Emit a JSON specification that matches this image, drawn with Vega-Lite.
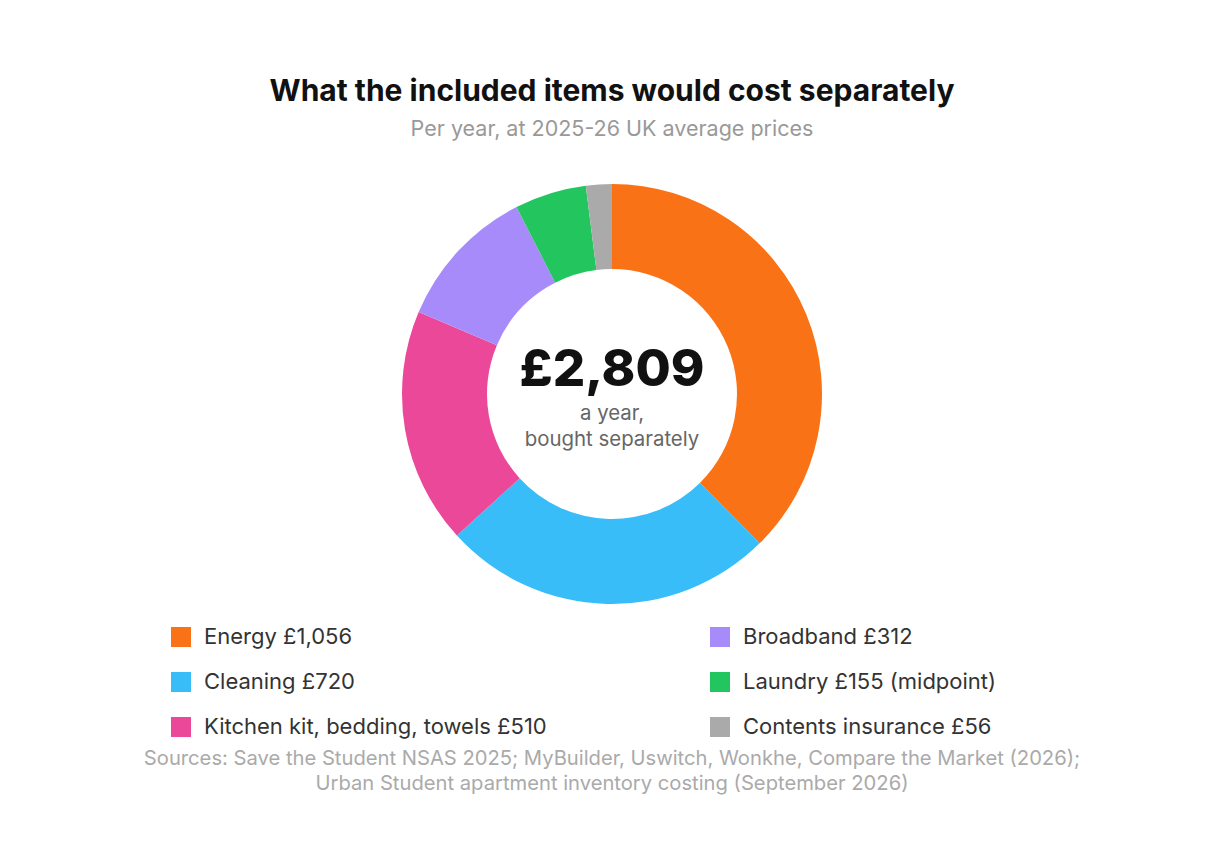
{
  "$schema": "https://vega.github.io/schema/vega-lite/v6.json",
  "width": 1224,
  "height": 420,
  "padding": {"top": 76, "left": 0, "right": 0, "bottom": 0},
  "autosize": {"type": "pad"},
  "background": "white",
  "config": {"view": {"stroke": null}, "font": "Inter"},
  "title": {
    "text": "What the included items would cost separately",
    "subtitle": "Per year, at 2025-26 UK average prices",
    "anchor": "middle",
    "font": "Inter",
    "fontSize": 30,
    "fontWeight": 700,
    "color": "#111111",
    "subtitleFont": "Inter",
    "subtitleFontSize": 21.5,
    "subtitleColor": "#999999",
    "subtitlePadding": 12,
    "offset": 44
  },
  "layer": [
    {
      "data": {
        "values": [
          {"category": "Energy", "label": "Energy £1,056", "value": 1056, "order": 1},
          {"category": "Cleaning", "label": "Cleaning £720", "value": 720, "order": 2},
          {"category": "Kitchen", "label": "Kitchen kit, bedding, towels £510", "value": 510, "order": 3},
          {"category": "Broadband", "label": "Broadband £312", "value": 312, "order": 4},
          {"category": "Laundry", "label": "Laundry £155 (midpoint)", "value": 155, "order": 5},
          {"category": "Insurance", "label": "Contents insurance £56", "value": 56, "order": 6}
        ]
      },
      "mark": {"type": "arc", "outerRadius": 210, "innerRadius": 125},
      "encoding": {
        "theta": {"field": "value", "type": "quantitative", "stack": true},
        "order": {"field": "order", "type": "quantitative", "sort": "ascending"},
        "color": {
          "field": "label",
          "type": "nominal",
          "scale": {
            "domain": ["Energy £1,056", "Cleaning £720", "Kitchen kit, bedding, towels £510", "Broadband £312", "Laundry £155 (midpoint)", "Contents insurance £56"],
            "range": ["#F97316", "#38BDF8", "#EC4899", "#A78BFA", "#22C55E", "#AAAAAA"]
          },
          "legend": {
            "title": null,
            "orient": "none",
            "legendX": 170,
            "legendY": 442,
            "columns": 2,
            "symbolType": "square",
            "symbolSize": 400,
            "symbolStrokeWidth": 0,
            "labelFont": "Inter",
            "labelFontSize": 22,
            "labelColor": "#333333",
            "labelOffset": 12,
            "labelLimit": 0,
            "rowPadding": 23,
            "columnPadding": 162
          }
        }
      }
    },
    {
      "data": {"values": [{"t": "£2,809"}]},
      "mark": {"type": "text", "font": "Inter", "fontSize": 51, "fontWeight": 800, "color": "#111111", "align": "center", "baseline": "alphabetic", "dy": -8},
      "encoding": {"text": {"field": "t", "type": "nominal"}}
    },
    {
      "data": {"values": [{"t": "a year,\nbought separately"}]},
      "mark": {"type": "text", "font": "Inter", "fontSize": 20.4, "color": "#666666", "align": "center", "baseline": "alphabetic", "dy": 26, "lineBreak": "\n", "lineHeight": 26},
      "encoding": {"text": {"field": "t", "type": "nominal"}}
    },
    {
      "data": {"values": [{"t": "Sources: Save the Student NSAS 2025; MyBuilder, Uswitch, Wonkhe, Compare the Market (2026);\nUrban Student apartment inventory costing (September 2026)"}]},
      "mark": {"type": "text", "font": "Inter", "fontSize": 20.2, "color": "#AAAAAA", "align": "center", "baseline": "alphabetic", "dy": 371, "lineBreak": "\n", "lineHeight": 25},
      "encoding": {"text": {"field": "t", "type": "nominal"}}
    }
  ]
}
